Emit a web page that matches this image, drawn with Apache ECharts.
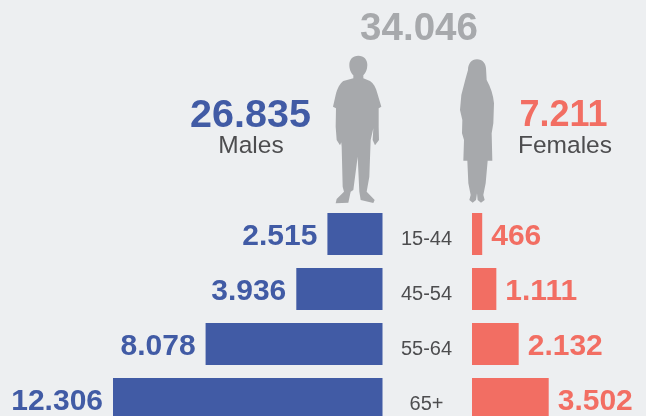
<!DOCTYPE html>
<html>
<head>
<meta charset="utf-8">
<style>
  html, body { margin: 0; padding: 0; background: #edeff1; }
  #main { width: 646px; height: 416px; }
</style>
<script src="https://cdn.jsdelivr.net/npm/echarts@6/dist/echarts.min.js"></script>
</head>
<body>
<div id="main"></div>
<script>
var ageGroups = ['15-44', '45-54', '55-64', '65+'];
var maleValues = [2515, 3936, 8078, 12306];
var femaleValues = [466, 1111, 2132, 3502];
var totalLabel = '34.046';
var maleLabel = '26.835';
var femaleLabel = '7.211';

var BLUE = '#415ba5', RED = '#f26e63', GREY = '#a7a9ac', FONT = '"Liberation Sans", Arial, sans-serif';

// silhouettes traced at 3x, placed with scale 1/3
var manPath = 'M115 167C98 167 88 178 88 195C88 212 96 222 100 226L100 235L70 243C60 250 52 265 47 285L39 320L48 325L47 380L50 420L60 436L67 420L60 385L65 440L68 560L72 575L50 597L47 610L85 608L92 575L100 570L113 470L118 575L122 600L160 609L164 600L140 575L148 530L152 420L160 385L158 420L165 436L177 420L176 380L176 325L184 320L172 280C168 262 160 250 150 243L130 235L130 226C136 220 142 210 142 195C142 178 132 167 115 167Z';
var womanPath = 'M471 178C454 178 444 192 444 210L437 235L424 285L420 330L427 360L426 400L432 420L430 482L442 482L445 550L452 585L448 600L458 608L468 600L471 580L473 600L483 608L494 600L490 585L497 550L503 482L517 482L515 400L520 370L522 310C520 285 512 262 500 240L498 205C497 190 488 178 471 178Z';
echarts.graphic.registerShape('manShape', echarts.graphic.extendPath(manPath, {}));
echarts.graphic.registerShape('womanShape', echarts.graphic.extendPath(womanPath, {}));

function num(v) {
  return (v >= 1000 ? Math.floor(v / 1000) + '.' + ('00' + (v % 1000)).slice(-3) : '' + v);
}

var myChart = echarts.init(document.getElementById('main'));
myChart.setOption({
  backgroundColor: '#edeff1',
  animation: false,
  grid: [
    { left: 113, width: 269.5, top: 206.5, height: 220, outerBoundsMode: 'none' },
    { left: 472, width: 76.7, top: 206.5, height: 220, outerBoundsMode: 'none' }
  ],
  xAxis: [
    { gridIndex: 0, type: 'value', inverse: true, min: 0, max: 'dataMax', show: false },
    { gridIndex: 1, type: 'value', min: 0, max: 'dataMax', show: false }
  ],
  yAxis: [
    {
      gridIndex: 0, type: 'category', inverse: true, position: 'right', data: ageGroups,
      axisLine: { show: false }, axisTick: { show: false },
      axisLabel: { margin: 44, align: 'center', verticalAlign: 'top', lineHeight: 10, color: '#4d4d4f', fontFamily: FONT, fontSize: 20 }
    },
    {
      gridIndex: 1, type: 'category', inverse: true, data: ageGroups,
      axisLine: { show: false }, axisTick: { show: false }, axisLabel: { show: false }
    }
  ],
  series: [
    {
      type: 'bar', xAxisIndex: 0, yAxisIndex: 0, data: maleValues, barWidth: 42,
      itemStyle: { color: BLUE },
      label: {
        show: true, position: 'left', distance: 10, offset: [0, 3], color: BLUE, fontFamily: FONT, fontWeight: 'bold', fontSize: 30,
        formatter: function (p) { return num(p.value); }
      }
    },
    {
      type: 'bar', xAxisIndex: 1, yAxisIndex: 1, data: femaleValues, barWidth: 42,
      itemStyle: { color: RED },
      label: {
        show: true, position: 'right', distance: 9, offset: [0, 3], color: RED, fontFamily: FONT, fontWeight: 'bold', fontSize: 30,
        formatter: function (p) { return num(p.value); }
      }
    }
  ],
  graphic: [
    { type: 'text', x: 419, y: 29, style: { text: totalLabel, fill: GREY, font: 'bold 38.5px ' + FONT, textAlign: 'center', textVerticalAlign: 'middle' } },
    { type: 'text', x: 250.5, y: 116, style: { text: maleLabel, fill: BLUE, font: 'bold 39.5px ' + FONT, textAlign: 'center', textVerticalAlign: 'middle' } },
    { type: 'text', x: 563.5, y: 116, style: { text: femaleLabel, fill: RED, font: 'bold 36px ' + FONT, textAlign: 'center', textVerticalAlign: 'middle' } },
    { type: 'text', x: 251, y: 146, style: { text: 'Males', fill: '#4d4d4f', font: '24.5px ' + FONT, textAlign: 'center', textVerticalAlign: 'middle' } },
    { type: 'text', x: 565, y: 146, style: { text: 'Females', fill: '#4d4d4f', font: '24.5px ' + FONT, textAlign: 'center', textVerticalAlign: 'middle' } },
    { type: 'manShape', x: 320, y: 0, scaleX: 1 / 3, scaleY: 1 / 3, shape: {}, style: { fill: GREY } },
    { type: 'womanShape', x: 320, y: 0, scaleX: 1 / 3, scaleY: 1 / 3, shape: {}, style: { fill: GREY } }
  ]
});
</script>
</body>
</html>
